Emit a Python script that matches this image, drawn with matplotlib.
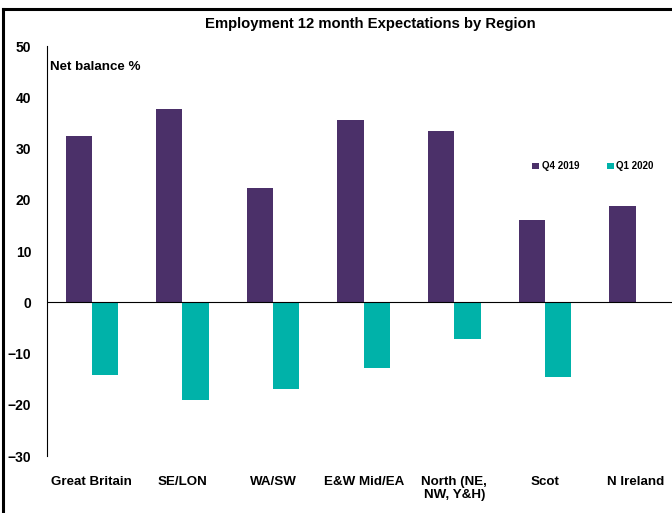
import matplotlib.pyplot as plt
import matplotlib.font_manager as fm
import numpy as np

regions = ['Great Britain', 'SE/LON', 'WA/SW', 'E&W Mid/EA', 'North (NE,\nNW, Y&H)', 'Scot', 'N Ireland']
q4_2019 = [32.5, 37.8, 22.4, 35.5, 33.5, 16.0, 18.9]
q1_2020 = [-14.2, -19.1, -17.0, -12.9, -7.2, -14.6, np.nan]

names = {f.name for f in fm.fontManager.ttflist}
narrow = 'Liberation Sans Narrow' if 'Liberation Sans Narrow' in names else 'Liberation Sans'
plt.rcParams['font.family'] = [narrow, 'DejaVu Sans']
plt.rcParams['font.weight'] = 'bold'

fig = plt.figure(figsize=(6.72, 5.13), dpi=100)
ax = fig.add_axes([0.0692, 0.111, 0.944, 0.799])

x = np.arange(len(regions))
w = 0.29
ax.bar(x - w/2, q4_2019, w, color='#4B3069', label='Q4 2019')
ax.bar(x + w/2, q1_2020, w, color='#00B2A9', label='Q1 2020')

ax.set_xlim(-0.5, len(regions) - 0.5)
ax.set_ylim(-30, 50)
ax.set_yticks(range(-30, 51, 10))
ax.tick_params(axis='y', length=0, pad=11, labelsize=10)
ax.tick_params(axis='x', length=0, pad=14, labelsize=9.6)
ax.set_xticks(x)
ax.set_xticklabels(regions, fontweight='bold')
for lab in ax.get_xticklabels():
    lab.set_verticalalignment('top')
    lab.set_horizontalalignment('center')
for lab in ax.get_yticklabels():
    lab.set_fontweight('bold')

for s in ['top', 'right', 'bottom']:
    ax.spines[s].set_visible(False)
ax.spines['left'].set_linewidth(0.8)
ax.axhline(0, color='black', linewidth=0.8)

ax.text(0.005, 0.965, 'Net balance %', transform=ax.transAxes, fontsize=9.6,
        fontweight='bold', va='top', ha='left')

ax.legend(loc='upper left', bbox_to_anchor=(0.752, 0.74), ncol=2, frameon=False,
          fontsize=7, handlelength=0.7, handleheight=0.7, columnspacing=2.8,
          handletextpad=0.3)

fig.text(0.551, 0.953, 'Employment 12 month Expectations by Region', ha='center',
         va='center', fontsize=10.7, fontweight='bold')

# outer frame of the chart area (cropped on right and bottom)
fig.add_artist(plt.Line2D([0.0045, 0.0045], [0, 0.983], color='black', linewidth=2.2, transform=fig.transFigure))
fig.add_artist(plt.Line2D([0.0045, 1], [0.983, 0.983], color='black', linewidth=2.2, transform=fig.transFigure))

fig.savefig('out.png', dpi=100)
